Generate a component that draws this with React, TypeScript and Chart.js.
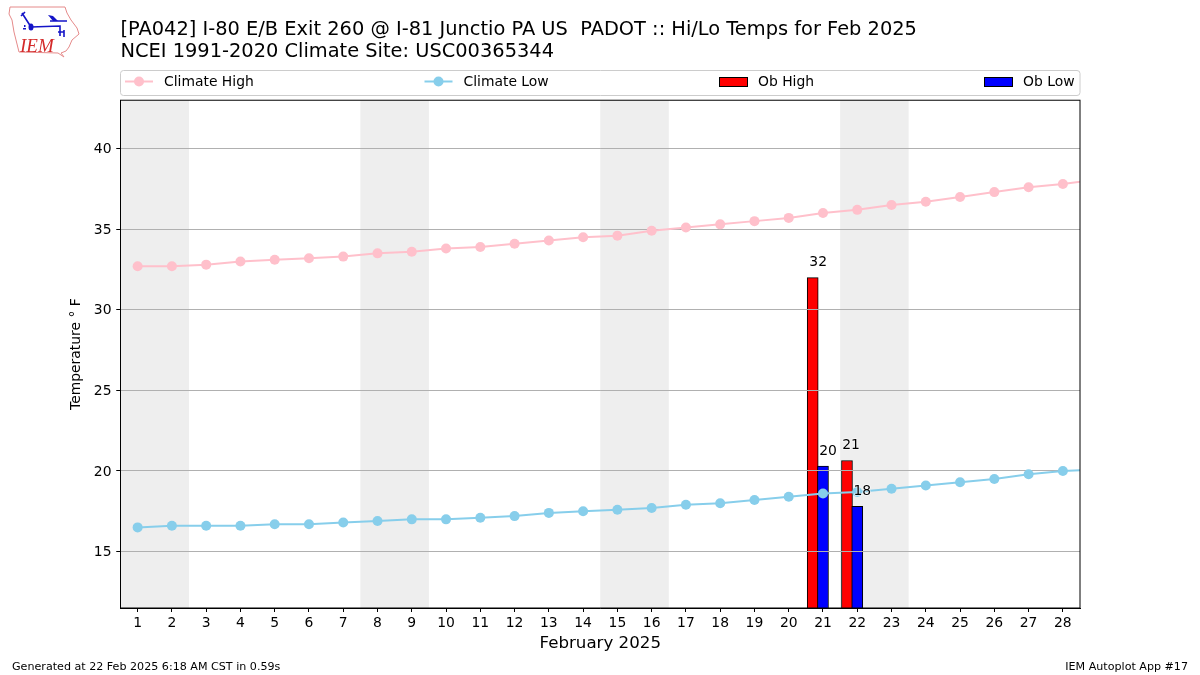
import React, { useEffect, useRef } from "react";
import { Chart, registerables } from "chart.js";

Chart.register(...registerables);

const FONT = '"DejaVu Sans", sans-serif';

const titleLines = [
  "[PA042] I-80 E/B Exit 260 @ I-81 Junctio PA US  PADOT :: Hi/Lo Temps for Feb 2025",
  "NCEI 1991-2020 Climate Site: USC00365344",
];
const xAxisTitle = "February 2025";
const yAxisTitle = "Temperature ° F";
const footerLeft = "Generated at 22 Feb 2025 6:18 AM CST in 0.59s";
const footerRight = "IEM Autoplot App #17";

const xTicks = [1, 2, 3, 4, 5, 6, 7, 8, 9, 10, 11, 12, 13, 14, 15, 16, 17, 18, 19, 20, 21, 22, 23, 24, 25, 26, 27, 28];
const climateDays = [
  1, 2, 3, 4, 5, 6, 7, 8, 9, 10, 11, 12, 13, 14, 15, 16, 17, 18, 19, 20, 21, 22, 23, 24, 25, 26, 27, 28, 29,
];
const climateHigh = [
  32.7, 32.7, 32.8, 33.0, 33.1, 33.2, 33.3, 33.5, 33.6, 33.8, 33.9, 34.1, 34.3, 34.5, 34.6, 34.9, 35.1, 35.3, 35.5,
  35.7, 36.0, 36.2, 36.5, 36.7, 37.0, 37.3, 37.6, 37.8, 38.1,
];
const climateLow = [
  16.5, 16.6, 16.6, 16.6, 16.7, 16.7, 16.8, 16.9, 17.0, 17.0, 17.1, 17.2, 17.4, 17.5, 17.6, 17.7, 17.9, 18.0, 18.2,
  18.4, 18.6, 18.7, 18.9, 19.1, 19.3, 19.5, 19.8, 20.0, 20.1,
];
const obHighDays = [20.7, 21.7];
const obHigh = [32, 20.65];
const obLowDays = [21, 22];
const obLow = [20.3, 17.8];
const obHighLabels = ["32", "21"];
const obLowLabels = ["20", "18"];
const weekendSpans: [number, number][] = [
  [0.5, 2.5],
  [7.5, 9.5],
  [14.5, 16.5],
  [21.5, 23.5],
];

const weekendPlugin = {
  id: "weekend",
  beforeDraw(chart: any) {
    const { ctx, chartArea, scales } = chart;
    ctx.save();
    ctx.fillStyle = "#eeeeee";
    for (const [a, b] of weekendSpans) {
      const x0 = scales.x.getPixelForValue(a);
      const x1 = scales.x.getPixelForValue(b);
      ctx.fillRect(x0, chartArea.top, x1 - x0, chartArea.bottom - chartArea.top);
    }
    ctx.restore();
  },
};

// matplotlib order: bars, then grid lines, then the climate lines
const gridOverBarsPlugin = {
  id: "gridOverBars",
  afterDatasetDraw(chart: any, args: any) {
    if (args.index === 3) chart.scales.y.drawGrid(chart.chartArea);
  },
};

function drawLogo(ctx: CanvasRenderingContext2D) {
  ctx.save();
  ctx.strokeStyle = "#e58a8a";
  ctx.lineWidth = 1;
  ctx.beginPath();
  const outline = [
    [10, 7], [65, 7], [67, 13], [71, 20], [77, 28], [79, 34], [72, 40], [69, 47], [66, 51], [61, 53], [64, 57],
    [58, 53], [19, 52], [17, 44], [14, 32], [12, 20], [9, 14],
  ];
  outline.forEach(([x, y], i) => (i ? ctx.lineTo(x, y) : ctx.moveTo(x, y)));
  ctx.closePath();
  ctx.stroke();

  ctx.strokeStyle = "#1414c8";
  ctx.fillStyle = "#1414c8";
  ctx.lineWidth = 1.6;
  ctx.beginPath();
  ctx.moveTo(31, 27); ctx.lineTo(60, 26); ctx.lineTo(60, 36);
  ctx.moveTo(22, 13); ctx.lineTo(31, 27);
  ctx.moveTo(21, 16); ctx.lineTo(25, 12);
  ctx.moveTo(50, 21); ctx.lineTo(67, 21);
  ctx.moveTo(58, 32); ctx.lineTo(64, 32);
  ctx.moveTo(64, 30); ctx.lineTo(64, 37);
  ctx.stroke();
  ctx.beginPath();
  ctx.ellipse(31, 27, 2.5, 3.5, 0, 0, Math.PI * 2);
  ctx.fill();
  ctx.beginPath();
  ctx.moveTo(48, 15); ctx.lineTo(53, 16); ctx.lineTo(58, 21); ctx.lineTo(53, 21);
  ctx.closePath();
  ctx.fill();
  ctx.fillRect(23, 28, 3, 1.5);
  ctx.fillRect(24, 25, 1.5, 2);

  ctx.fillStyle = "#d42a2a";
  ctx.font = 'italic 19px "Liberation Serif", serif';
  ctx.textAlign = "left";
  ctx.textBaseline = "alphabetic";
  ctx.fillText("IEM", 20, 52);
  ctx.restore();
}

const decorationsPlugin = {
  id: "decorations",
  afterDatasetsDraw(chart: any) {
    const { ctx, chartArea, scales } = chart;
    ctx.save();
    // value labels
    ctx.font = `13.9px ${FONT}`;
    ctx.fillStyle = "#000";
    ctx.textAlign = "center";
    ctx.textBaseline = "alphabetic";
    const label = (text: string, x: number, y: number) => {
      ctx.lineWidth = 1.5;
      ctx.strokeStyle = "rgba(255,255,255,0.7)";
      ctx.strokeText(text, x, y);
      ctx.fillText(text, x, y);
    };
    obHigh.forEach((v, i) => {
      label(obHighLabels[i], scales.x.getPixelForValue(obHighDays[i]) + (i === 0 ? 5.5 : 4), scales.y.getPixelForValue(v) - 12);
    });
    obLow.forEach((v, i) => {
      label(obLowLabels[i], scales.x.getPixelForValue(obLowDays[i]) + 5, scales.y.getPixelForValue(v) - 11.5);
    });
    // frame
    ctx.strokeStyle = "#000";
    ctx.lineWidth = 1;
    ctx.strokeRect(chartArea.left, chartArea.top, chartArea.right - chartArea.left, chartArea.bottom - chartArea.top);
    ctx.restore();
  },
  afterDraw(chart: any) {
    const { ctx, data } = chart;
    ctx.save();
    drawLogo(ctx);

    // legend frame
    ctx.strokeStyle = "#cccccc";
    ctx.fillStyle = "#fff";
    ctx.lineWidth = 1;
    ctx.beginPath();
    ctx.roundRect(120.5, 70.5, 959.5, 25, 3);
    ctx.fill();
    ctx.stroke();

    const sets = data.datasets;
    ctx.font = `13.9px ${FONT}`;
    ctx.textAlign = "left";
    ctx.textBaseline = "alphabetic";
    const legendY = 81.5;
    const lineItem = (ds: any, x: number) => {
      ctx.strokeStyle = ds.borderColor;
      ctx.lineWidth = 2;
      ctx.beginPath();
      ctx.moveTo(x, legendY);
      ctx.lineTo(x + 28, legendY);
      ctx.stroke();
      ctx.fillStyle = ds.borderColor;
      ctx.beginPath();
      ctx.arc(x + 14, legendY, 5, 0, Math.PI * 2);
      ctx.fill();
      ctx.fillStyle = "#000";
      ctx.fillText(ds.label, x + 39, 86);
    };
    const patchItem = (ds: any, x: number) => {
      ctx.fillStyle = ds.backgroundColor;
      ctx.fillRect(x + 0.5, 77.5, 28, 9);
      ctx.strokeStyle = "#000";
      ctx.lineWidth = 1;
      ctx.strokeRect(x + 0.5, 77.5, 28, 9);
      ctx.fillStyle = "#000";
      ctx.fillText(ds.label, x + 39, 86);
    };
    lineItem(sets[0], 125);
    lineItem(sets[1], 424.5);
    patchItem(sets[2], 719);
    patchItem(sets[3], 984);

    // footers
    ctx.fillStyle = "#000";
    ctx.font = `11.12px ${FONT}`;
    ctx.fillText(footerLeft, 12, 670);
    ctx.textAlign = "right";
    ctx.fillText(footerRight, 1188, 670);
    ctx.restore();
  },
};

export default function App() {
  const ref = useRef<HTMLCanvasElement>(null);
  useEffect(() => {
    const chart = new Chart(ref.current!, {
      type: "line",
      data: {
        datasets: [
          {
            label: "Climate High",
            data: climateDays.map((d, i) => ({ x: d, y: climateHigh[i] })),
            borderColor: "#ffc0cb",
            backgroundColor: "#ffc0cb",
            borderWidth: 2,
            pointRadius: 5,
            pointBorderWidth: 0,
            pointBackgroundColor: "#ffc0cb",
            tension: 0,
            order: 1,
          },
          {
            label: "Climate Low",
            data: climateDays.map((d, i) => ({ x: d, y: climateLow[i] })),
            borderColor: "#87ceeb",
            backgroundColor: "#87ceeb",
            borderWidth: 2,
            pointRadius: 5,
            pointBorderWidth: 0,
            pointBackgroundColor: "#87ceeb",
            tension: 0,
            order: 1,
          },
          {
            type: "bar",
            label: "Ob High",
            data: obHighDays.map((d, i) => ({ x: d, y: obHigh[i] })),
            backgroundColor: "#ff0000",
            borderColor: "#000000",
            borderWidth: 1,
            barThickness: 11,
            grouped: false,
            order: 3,
          },
          {
            type: "bar",
            label: "Ob Low",
            data: obLowDays.map((d, i) => ({ x: d, y: obLow[i] })),
            backgroundColor: "#0000ff",
            borderColor: "#000000",
            borderWidth: 1,
            barThickness: 11,
            grouped: false,
            order: 2,
          },
        ] as any,
      },
      options: {
        responsive: false,
        animation: false,
        devicePixelRatio: 1,
        layout: { padding: { left: 0, right: 120, top: 0, bottom: 0 } },
        plugins: {
          legend: { display: false },
          tooltip: { enabled: false },
          title: {
            display: true,
            text: titleLines,
            align: "start",
            fullSize: false,
            color: "#000",
            font: { family: FONT, size: 19.4, weight: "normal", lineHeight: 1.14 },
            padding: { top: 19, bottom: 37 },
          },
        },
        scales: {
          x: {
            type: "linear",
            min: 0.5,
            max: 28.5,
            offset: false,
            afterFit(scale: any) {
              scale.height = 67;
            },
            afterBuildTicks(scale: any) {
              scale.ticks = xTicks.map((value) => ({ value }));
            },
            grid: { offset: false, drawOnChartArea: false, tickColor: "#000", tickLength: 4, tickWidth: 1 },
            border: { color: "#000", width: 1 },
            ticks: {
              autoSkip: false,
              maxRotation: 0,
              color: "#000",
              padding: 3,
              font: { family: FONT, size: 13.9 },
            },
            title: {
              display: true,
              text: xAxisTitle,
              color: "#000",
              font: { family: FONT, size: 16.67 },
              padding: { top: 4, bottom: 21 },
            },
          },
          y: {
            min: 11.5,
            max: 43,
            afterFit(scale: any) {
              scale.width = 120.5;
            },
            grid: { color: "#b0b0b0", lineWidth: 1, tickColor: "#000", tickLength: 4, tickWidth: 1 },
            border: { color: "#000", width: 1 },
            ticks: {
              stepSize: 5,
              includeBounds: false,
              color: "#000",
              padding: 5,
              labelOffset: 1,
              font: { family: FONT, size: 13.9 },
            },
            title: {
              display: true,
              text: yAxisTitle,
              color: "#000",
              font: { family: FONT, size: 13.9 },
              padding: { top: 68, bottom: 0 },
            },
          },
        },
      },
      plugins: [weekendPlugin, gridOverBarsPlugin, decorationsPlugin],
    } as any);
    return () => chart.destroy();
  }, []);
  return (
    <canvas
      ref={ref}
      width={1200}
      height={675}
      style={{ position: "absolute", left: 0, top: 0, width: 1200, height: 675, display: "block" }}
    />
  );
}
